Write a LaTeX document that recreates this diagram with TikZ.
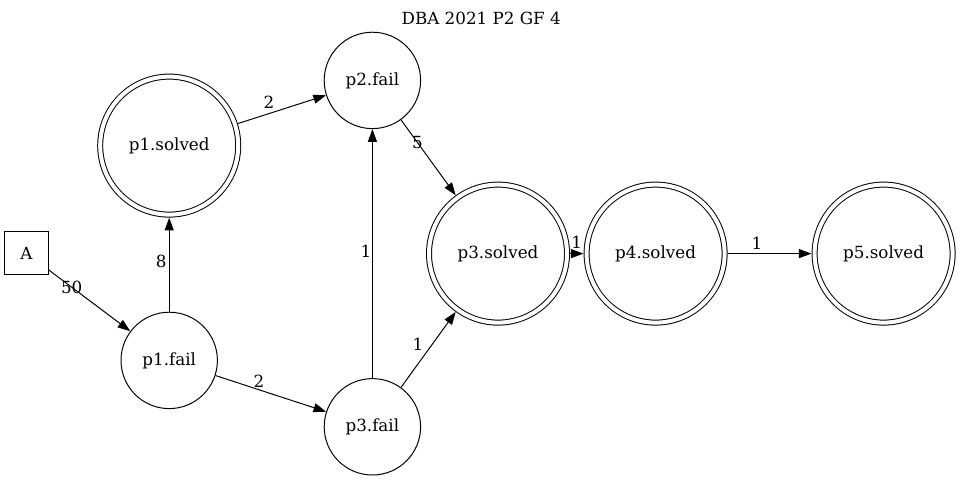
\documentclass[tikz,border=0pt]{standalone}
\usepackage{fontspec}
\setmainfont{DejaVu Serif}
\usetikzlibrary{arrows.meta}

\begin{document}
\begin{tikzpicture}[
		font=\fontsize{11.9}{14}\selectfont,
		every path/.style={line width=0.7pt},
		failstate/.style={draw, circle, inner sep=0pt, minimum size=2.41cm},
		solvedstate/.style={draw, circle, double, double distance=2.85pt, inner sep=0pt, minimum size=3.45cm, outer sep=2.2pt},
		startbox/.style={draw, rectangle, inner sep=0pt, minimum width=1.1cm, minimum height=1.075cm},
		edgelbl/.style={inner sep=0pt, anchor=center},
		>={Triangle[length=9pt, width=6.4pt]}
	]
			%%%%% START %%%%%
			
			\useasboundingbox (0, 0) rectangle (24, -12);
			\node (title) at (12.03, -0.45) {DBA 2021 P2 GF 4};
			
			\node[startbox] (A) at (0.66, -6.33) {A};
			
			\node[failstate] (p1fail) at (4.23, -9.01) {p1.fail};
			\node[failstate] (p2fail) at (9.31, -2.01) {p2.fail};
			\node[failstate] (p3fail) at (9.31, -10.67) {p3.fail};
			
			\node[solvedstate] (p1solved) at (4.23, -3.64) {p1.solved};
			\node[solvedstate] (p3solved) at (12.45, -6.34) {p3.solved};
			\node[solvedstate] (p4solved) at (16.39, -6.34) {p4.solved};
			\node[solvedstate] (p5solved) at (22.09, -6.34) {p5.solved};
			
			\draw[->] (A) -- node[edgelbl, pos=0.28] {50} (p1fail);
			\draw[->] (p1fail) -- node[edgelbl, pos=0.53, xshift=-5.7pt] {8} (p1solved);
			\draw[->] (p1solved) -- node[edgelbl, pos=0.39, xshift=-2.3pt, yshift=7.5pt] {2} (p2fail);
			\draw[->] (p1fail) -- node[edgelbl, pos=0.37, xshift=1.8pt, yshift=5.3pt] {2} (p3fail);
			\draw[->] (p3fail) -- node[edgelbl, pos=0.51, xshift=-4.6pt] {1} (p2fail);
			\draw[->] (p2fail) -- node[edgelbl, pos=0.3] {5} (p3solved);
			\draw[->] (p3fail) -- node[edgelbl, pos=0.48, xshift=-6.7pt, yshift=4.9pt] {1} (p3solved);
			\draw[->] (p3solved) -- node[edgelbl, pos=0.5, yshift=8.2pt] {1} (p4solved);
			\draw[->] (p4solved) -- node[edgelbl, pos=0.35, yshift=7.5pt] {1} (p5solved);
			
			%%%%% END %%%%%
\end{tikzpicture}
\end{document}
